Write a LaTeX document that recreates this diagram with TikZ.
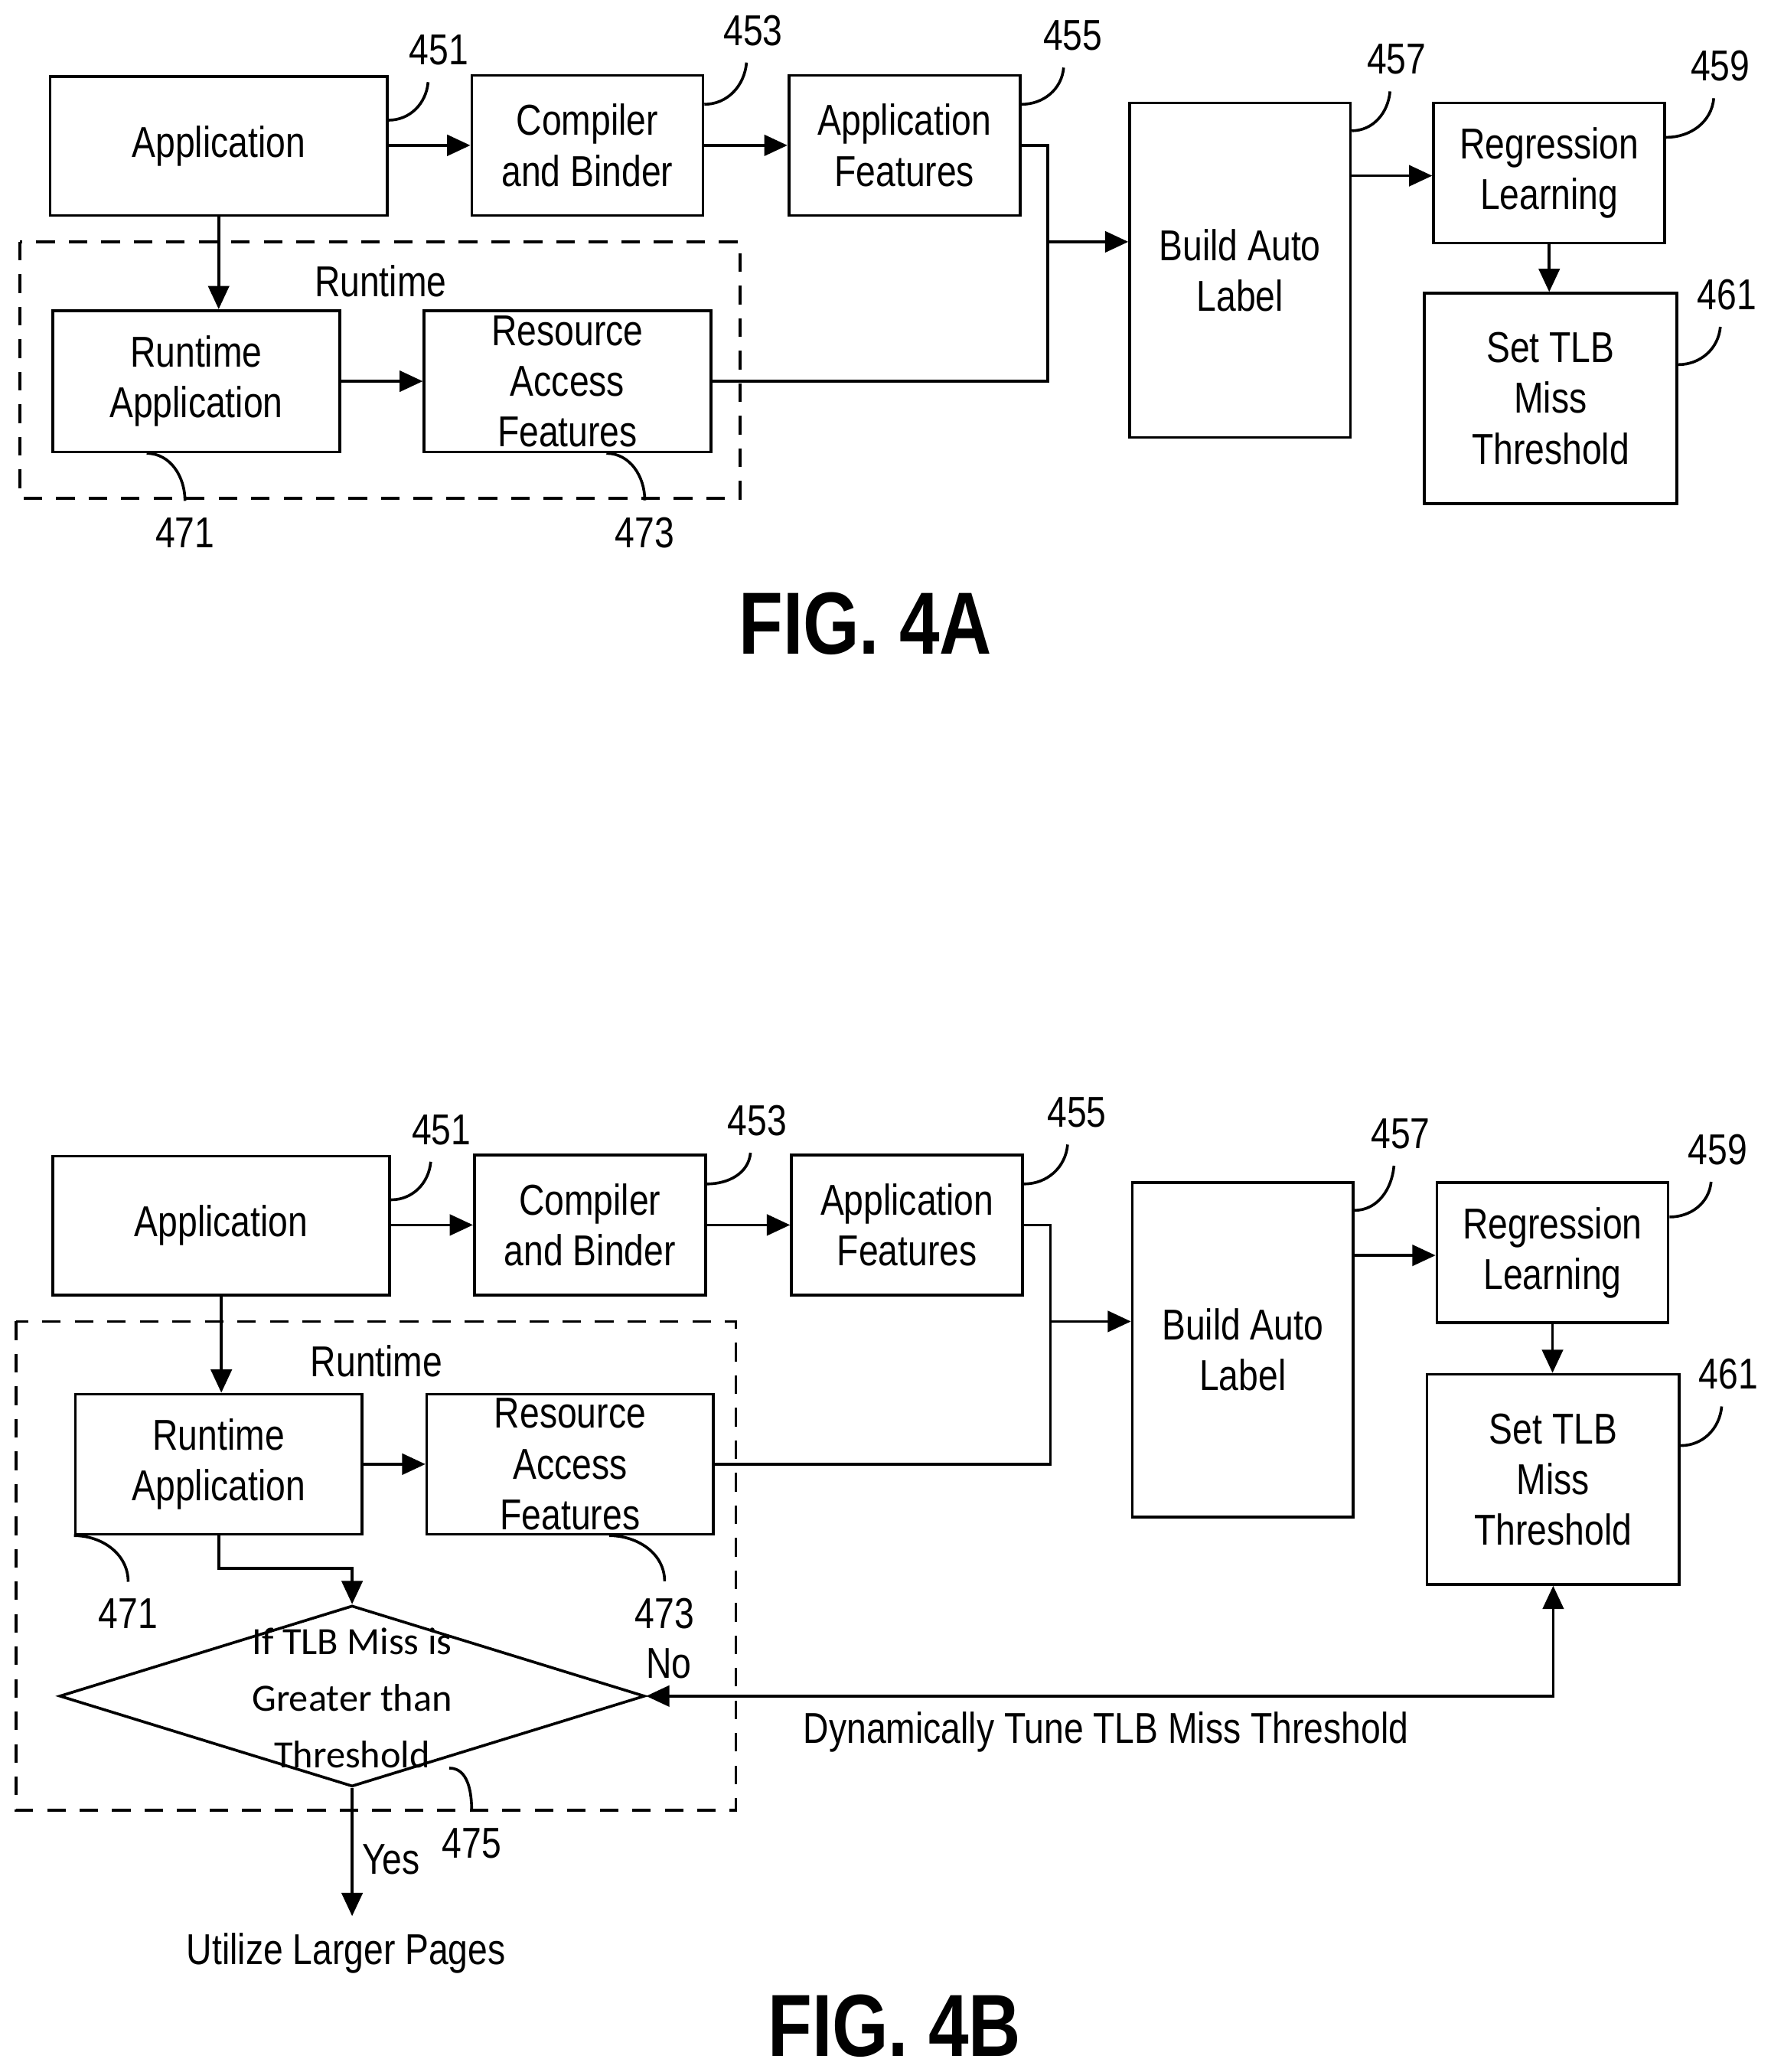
\documentclass[tikz,border=0pt]{standalone}
\usepackage{fontspec}
\setmainfont{Liberation Sans}[FakeStretch=0.82]
\newfontfamily\dfont{Carlito}
\usetikzlibrary{arrows.meta,shapes.geometric}
\newcommand{\txt}{\fontsize{9.3}{10.9}\selectfont}
\begin{document}
\begin{tikzpicture}[line width=0.6pt,>={Triangle[length=5pt,width=4.5pt]}]
\tikzstyle{box}=[draw,align=center,inner sep=0pt,font=\txt]
\tikzstyle{num}=[font=\txt]
\tikzstyle{frame}=[draw,dashed,dash pattern=on 4pt off 3pt]
\useasboundingbox (0,0) rectangle (13.4,-15.68);
% FIG. 4A
\node[box,minimum width=2.55cm,minimum height=1.05cm] (app) at (1.655,-1.105) {Application};
\node[box,minimum width=1.75cm,minimum height=1.06cm] (comp) at (4.445,-1.10) {Compiler\\and Binder};
\node[box,minimum width=1.75cm,minimum height=1.06cm] (feat) at (6.845,-1.10) {Application\\Features};
\node[box,minimum width=1.67cm,minimum height=2.53cm] (build) at (9.385,-2.045) {Build Auto\\Label};
\node[box,minimum width=1.75cm,minimum height=1.06cm] (reg) at (11.725,-1.31) {Regression\\Learning};
\node[box,minimum width=1.91cm,minimum height=1.59cm] (tlb) at (11.735,-3.015) {Set TLB\\Miss\\Threshold};
\draw[frame] (0.15,-1.83) rectangle (5.60,-3.77);
\node[num] (rt) at (2.88,-2.13) {Runtime};
\node[box,minimum width=2.17cm,minimum height=1.07cm] (rapp) at (1.485,-2.885) {Runtime\\Application};
\node[box,minimum width=2.17cm,minimum height=1.07cm] (raf) at (4.295,-2.885) {Resource\\Access\\Features};
\coordinate (j1) at (7.93,-1.83);
\draw[->] (app.east |- comp) -- (comp.west);
\draw[->] (comp.east) -- (feat.west);
\draw (feat.east) -| (j1);
\draw (raf.east) -| (j1);
\draw[->] (j1) -- (j1 -| build.west);
\draw[->] (build.east |- 0,-1.33) -- (reg.west |- 0,-1.33);
\draw[->] (reg.south) -- (reg.south |- tlb.north);
\draw[->] (app.south) -- (app.south |- rapp.north);
\draw[->] (rapp.east) -- (raf.west);
\node[num] (n451) at (3.32,-0.38) {451};
\node[num] (n453) at (5.70,-0.23) {453};
\node[num] (n455) at (8.12,-0.27) {455};
\node[num] (n457) at (10.57,-0.45) {457};
\node[num] (n459) at (13.02,-0.50) {459};
\node[num] (n461) at (13.07,-2.23) {461};
\node[num] (n471) at (1.40,-4.03) {471};
\node[num] (n473) at (4.88,-4.03) {473};
\draw ([yshift=-0.34cm]app.north east) to[out=0,in=-95] ([xshift=-0.08cm]n451.south);
\draw ([yshift=-0.23cm]comp.north east) to[out=0,in=-95] ([xshift=-0.05cm]n453.south);
\draw ([yshift=-0.23cm]feat.north east) to[out=0,in=-95] ([xshift=-0.07cm]n455.south);
\draw ([yshift=-0.22cm]build.north east) to[out=0,in=-95] ([xshift=-0.05cm]n457.south);
\draw ([yshift=-0.27cm]reg.north east) to[out=0,in=-95] ([xshift=-0.05cm]n459.south);
\draw ([yshift=-0.55cm]tlb.north east) to[out=0,in=-95] ([xshift=-0.05cm]n461.south);
\draw ([xshift=0.72cm]rapp.south west) to[out=0,in=90] (n471.north);
\draw ([xshift=1.39cm]raf.south west) to[out=0,in=90] (n473.north);
\node[font=\bfseries\fontsize{19}{22}\selectfont] (f4a) at (6.55,-4.72) {FIG. 4A};
% FIG. 4B
\node[box,minimum width=2.55cm,minimum height=1.05cm] (app2) at (1.675,-9.275) {Application};
\node[box,minimum width=1.75cm,minimum height=1.06cm] (comp2) at (4.465,-9.27) {Compiler\\and Binder};
\node[box,minimum width=1.75cm,minimum height=1.06cm] (feat2) at (6.865,-9.27) {Application\\Features};
\node[box,minimum width=1.67cm,minimum height=2.53cm] (build2) at (9.405,-10.215) {Build Auto\\Label};
\node[box,minimum width=1.75cm,minimum height=1.06cm] (reg2) at (11.75,-9.48) {Regression\\Learning};
\node[box,minimum width=1.91cm,minimum height=1.59cm] (tlb2) at (11.755,-11.195) {Set TLB\\Miss\\Threshold};
\draw[frame] (0.12,-10.00) rectangle (5.57,-13.70);
\node[num] (rt2) at (2.85,-10.30) {Runtime};
\node[box,minimum width=2.17cm,minimum height=1.06cm] (rapp2) at (1.655,-11.08) {Runtime\\Application};
\node[box,minimum width=2.17cm,minimum height=1.06cm] (raf2) at (4.315,-11.08) {Resource\\Access\\Features};
\node[draw,diamond,inner sep=0pt,minimum width=4.43cm,minimum height=1.37cm] (dia) at (2.665,-12.835) {};
\node[font=\dfont\fontsize{8.3}{12.2}\selectfont,align=center] (diat) at (2.665,-12.85) {If TLB Miss is\\Greater than\\Threshold};
\node[num] (util) at (2.62,-14.78) {Utilize Larger Pages};
\node[num] (yes) at (2.96,-14.07) {Yes};
\node[num] (no) at (5.06,-12.59) {No};
\node[num] (dyn) at (8.37,-13.11) {Dynamically Tune TLB Miss Threshold};
\coordinate (j2) at (7.95,-10.00);
\coordinate (j3) at (2.665,-11.87);
\draw[->] (app2.east |- comp2) -- (comp2.west);
\draw[->] (comp2.east) -- (feat2.west);
\draw (feat2.east) -| (j2);
\draw (raf2.east) -| (j2);
\draw[->] (j2) -- (j2 -| build2.west);
\draw[->] (build2.east |- 0,-9.50) -- (reg2.west |- 0,-9.50);
\draw[->] (reg2.south) -- (reg2.south |- tlb2.north);
\draw[->] (app2.south) -- (app2.south |- rapp2.north);
\draw[->] (rapp2.east) -- (raf2.west);
\draw[->] (rapp2.south) |- (j3) -- (dia.north);
\draw[->] (dia.south) -- (dia.south |- util.north);
\draw[<->] (dia.east) -| (tlb2.south);
\node[num] (m451) at (3.34,-8.55) {451};
\node[num] (m453) at (5.73,-8.48) {453};
\node[num] (m455) at (8.15,-8.42) {455};
\node[num] (m457) at (10.60,-8.58) {457};
\node[num] (m459) at (13.00,-8.70) {459};
\node[num] (m461) at (13.08,-10.40) {461};
\node[num] (m471) at (0.97,-12.21) {471};
\node[num] (m473) at (5.03,-12.21) {473};
\node[num] (m475) at (3.57,-13.95) {475};
\draw ([yshift=-0.34cm]app2.north east) to[out=0,in=-95] ([xshift=-0.08cm]m451.south);
\draw ([yshift=-0.23cm]comp2.north east) to[out=0,in=-95] ([xshift=-0.05cm]m453.south);
\draw ([yshift=-0.23cm]feat2.north east) to[out=0,in=-95] ([xshift=-0.07cm]m455.south);
\draw ([yshift=-0.22cm]build2.north east) to[out=0,in=-95] ([xshift=-0.05cm]m457.south);
\draw ([yshift=-0.27cm]reg2.north east) to[out=0,in=-95] ([xshift=-0.05cm]m459.south);
\draw ([yshift=-0.55cm]tlb2.north east) to[out=0,in=-95] ([xshift=-0.05cm]m461.south);
\draw (rapp2.south west) to[out=0,in=90] (m471.north);
\draw ([xshift=1.39cm]raf2.south west) to[out=0,in=90] (m473.north);
\draw (3.40,-13.38) to[out=0,in=90] (m475.north);
\node[font=\bfseries\fontsize{19}{22}\selectfont] (f4b) at (6.77,-15.33) {FIG. 4B};
\end{tikzpicture}
\end{document}
